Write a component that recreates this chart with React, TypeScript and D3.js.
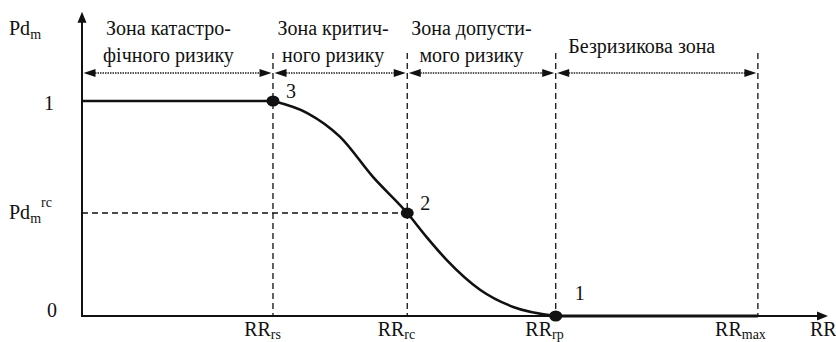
import React from 'react';
import * as d3 from 'd3';

const W = 836;
const H = 342;

// critical RR values along the horizontal axis (arbitrary units)
const rrNames = ['rs', 'rc', 'rp', 'max'];
const rrValues = [2.56, 4.36, 6.35, 9.06];
const rrAxisEnd = 10;

// vertical axis levels
const pdRc = 0.479;
const pdAxisTop = 1.415;

// the transition curve between point 3 and point 1
const curveX = [2.56, 3.02, 3.46, 3.9, 4.36, 4.62, 4.89, 5.34, 5.78, 6.35];
const curveY = [1, 0.944, 0.833, 0.647, 0.479, 0.367, 0.26, 0.121, 0.042, 0];

// numbered key points
const keyIds = ['3', '2', '1'];
const keyX = [2.56, 4.36, 6.35];
const keyY = [1, 0.479, 0];

// zone captions, left to right
const zoneLines = [
  ['Зона катастро-', 'фічного ризику'],
  ['Зона критич-', 'ного ризику'],
  ['Зона допусти-', 'мого ризику'],
  ['Безризикова зона'],
];

// Liberation Serif here only covers Latin; Cyrillic falls back on its own
const SERIF = { fontFamily: 'Liberation Serif, serif' };

function App() {
  const x = d3.scaleLinear().domain([0, rrAxisEnd]).range([82, 828]);
  const y = d3.scaleLinear().domain([0, 1]).range([316, 101]);

  const x0 = x(0);
  const y0 = y(0);
  const yTop = y(pdAxisTop);
  const xEnd = x(rrAxisEnd);

  const curvePts: [number, number][] = curveX.map((v, i) => [v, curveY[i]]);
  const line = d3
    .line<[number, number]>()
    .x(d => x(d[0]))
    .y(d => y(d[1]))
    .curve(d3.curveMonotoneX);
  const straight = d3
    .line<[number, number]>()
    .x(d => x(d[0]))
    .y(d => y(d[1]));

  const bounds = [0, ...rrValues];
  const arrowY = 73;
  // small nudges so captions sit like in the original
  const zoneDx = [-9, -7, -10, -15];
  const zoneTop = [35, 35, 35, 53];

  const head = (tx: number, ty: number, dir: 'l' | 'r' | 'u', len = 12, hw = 4) => {
    if (dir === 'u') return `M${tx},${ty} L${tx - hw},${ty + len} L${tx + hw},${ty + len} Z`;
    const s = dir === 'r' ? -1 : 1;
    return `M${tx},${ty} L${tx + s * len},${ty - hw} L${tx + s * len},${ty + hw} Z`;
  };

  return (
    <svg width={W} height={H} style={{ position: 'absolute', left: 0, top: 0, background: '#fff' }}>
      {/* dashed guides */}
      {rrValues.map((v, i) => (
        <line
          key={'g' + i}
          x1={x(v)}
          x2={x(v)}
          y1={53}
          y2={y0}
          stroke="#111"
          strokeWidth={1.3}
          strokeDasharray="6,4"
        />
      ))}
      <line
        x1={x0}
        x2={x(rrValues[1])}
        y1={y(pdRc)}
        y2={y(pdRc)}
        stroke="#111"
        strokeWidth={1.3}
        strokeDasharray="6,4"
      />

      {/* zone arrows and captions */}
      {zoneLines.map((lines, i) => {
        const a = x(bounds[i]);
        const b = x(bounds[i + 1]);
        const cx = (a + b) / 2 + zoneDx[i];
        return (
          <g key={'z' + i}>
            <line
              x1={a + 8}
              x2={b - 8}
              y1={arrowY}
              y2={arrowY}
              stroke="#222"
              strokeWidth={1.4}
              strokeDasharray="1.5,1"
            />
            <path d={head(a + 1.5, arrowY, 'l')} fill="#111" />
            <path d={head(b - 1.5, arrowY, 'r')} fill="#111" />
            {lines.map((t, j) => (
              <text
                key={j}
                x={cx}
                y={zoneTop[i] + j * 27}
                textAnchor="middle"
                fontSize={20}
                fill="#111"
                style={SERIF}
              >
                {t}
              </text>
            ))}
          </g>
        );
      })}

      {/* axes */}
      <line x1={x0} x2={x0} y1={y0 + 1} y2={yTop + 8} stroke="#111" strokeWidth={2} />
      <path d={head(x0, yTop, 'u', 11, 4.5)} fill="#111" />
      <line x1={x0 - 1} x2={xEnd - 8} y1={y0} y2={y0} stroke="#111" strokeWidth={2} />
      <path d={head(xEnd, y0, 'r', 11, 4.5)} fill="#111" />

      {/* the dependence */}
      <path
        d={straight([[0, 1], [rrValues[0], 1]]) || ''}
        fill="none"
        stroke="#111"
        strokeWidth={2.6}
      />
      <path d={line(curvePts) || ''} fill="none" stroke="#111" strokeWidth={2.6} />
      <path
        d={straight([[rrValues[2], 0], [rrValues[3], 0]]) || ''}
        fill="none"
        stroke="#111"
        strokeWidth={3.2}
      />

      {keyIds.map((id, i) => (
        <g key={'k' + id}>
          <ellipse cx={x(keyX[i])} cy={y(keyY[i])} rx={6.5} ry={5.5} fill="#111" />
          <text
            x={x(keyX[i]) + (i === 2 ? 19 : 13)}
            y={y(keyY[i]) + (i === 2 ? -16 : -3)}
            fontSize={20}
            fill="#111"
            style={SERIF}
          >
            {id}
          </text>
        </g>
      ))}

      {/* vertical axis labels */}
      <text x={9} y={35} fontSize={20} fill="#111" style={SERIF}>
        Pd<tspan fontSize={14} dy={4}>m</tspan>
      </text>
      <text x={x0 - 28} y={y(1) + 9} fontSize={20} textAnchor="end" fill="#111" style={SERIF}>
        1
      </text>
      <text x={9} y={y(pdRc) + 6} fontSize={20} fill="#111" style={SERIF}>
        Pd<tspan fontSize={14} dy={4}>m</tspan>
        <tspan fontSize={14} dy={-16}>rc</tspan>
      </text>
      <text x={x0 - 25} y={y0 + 1} fontSize={20} textAnchor="end" fill="#111" style={SERIF}>
        0
      </text>

      {/* horizontal axis labels */}
      {rrNames.map((n, i) => (
        <text
          key={'rr' + n}
          x={x(rrValues[i]) + 8}
          y={336}
          fontSize={20}
          textAnchor="end"
          fill="#111"
          style={SERIF}
        >
          RR<tspan fontSize={14} dy={3}>{n}</tspan>
        </text>
      ))}
      <text x={810} y={336} fontSize={20} fill="#111" style={SERIF}>
        RR
      </text>
    </svg>
  );
}

export default App;
